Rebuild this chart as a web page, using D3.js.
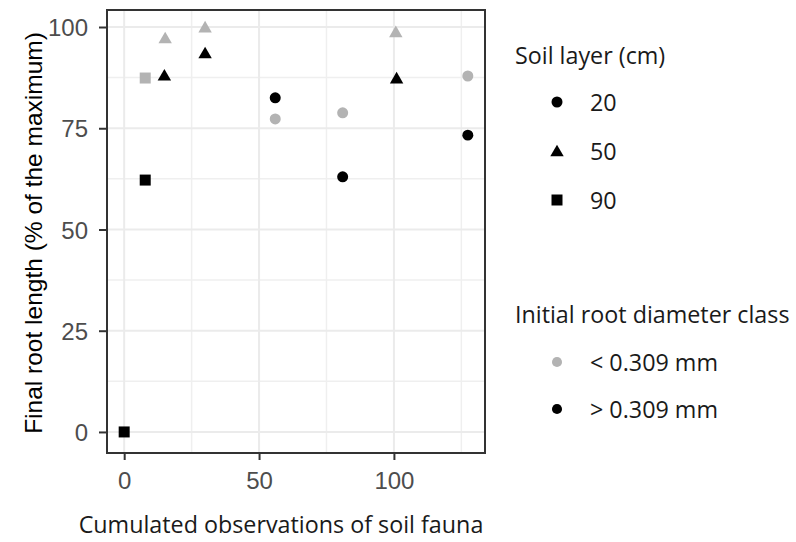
<!DOCTYPE html>
<html>
<head>
<meta charset="utf-8">
<script src="https://cdn.jsdelivr.net/npm/d3@7/dist/d3.min.js"></script>
<style>
  html, body { margin: 0; padding: 0; background: #fff; }
  svg { display: block; }
</style>
</head>
<body>
<svg id="chart" width="796" height="542"></svg>
<script>
// ---- data ----
const obsFauna   = [0, 7.8, 7.8, 15.2, 14.9, 30, 30, 56, 56, 81, 81, 100.7, 101, 127.4, 127.4];
const rootLength = [0, 87.4, 62.2, 97.3, 88.1, 100, 93.6, 82.5, 77.3, 78.8, 63, 98.8, 87.4, 87.9, 73.3];
const soilLayer  = ["90", "90", "90", "50", "50", "50", "50", "20", "20", "20", "20", "50", "50", "20", "20"];
const diamClass  = [">", "<", ">", "<", ">", "<", ">", ">", "<", "<", ">", "<", ">", "<", ">"];

const layerLevels = ["20", "50", "90"];
const classLevels = ["<", ">"];
const classLabels = ["< 0.309 mm", "> 0.309 mm"];

const xTicks = [0, 50, 100];
const xMinor = [25, 75, 125];
const yTicks = [0, 25, 50, 75, 100];
const yMinor = [12.5, 37.5, 62.5, 87.5];

const xTitle = "Cumulated observations of soil fauna";
const yTitle = "Final root length (% of the maximum)";
const legend1Title = "Soil layer (cm)";
const legend2Title = "Initial root diameter class";

// ---- layout ----
const panel = { left: 107, right: 485, top: 10, bottom: 453 };
const svg = d3.select("#chart");

const x = d3.scaleLinear().domain([-6.37, 133.77]).range([panel.left, panel.right]);
const y = d3.scaleLinear().domain([-5.2, 104.2]).range([panel.bottom, panel.top]);

const color = d3.scaleOrdinal().domain(classLevels).range(["#b3b3b3", "#000000"]);
const shape = d3.scaleOrdinal().domain(layerLevels).range([d3.symbolCircle, d3.symbolTriangle, d3.symbolSquare]);
const sizeOf = { "20": 95, "50": 78, "90": 121 };
const sym = d => d3.symbol().type(shape(d)).size(sizeOf[d])();

// panel background
svg.append("rect")
  .attr("x", panel.left).attr("y", panel.top)
  .attr("width", panel.right - panel.left).attr("height", panel.bottom - panel.top)
  .attr("fill", "#ffffff");

// grid
const grid = svg.append("g");
grid.selectAll(".vminor").data(xMinor).join("line")
  .attr("x1", d => x(d)).attr("x2", d => x(d))
  .attr("y1", panel.top).attr("y2", panel.bottom)
  .attr("stroke", "#efefef").attr("stroke-width", 1.5);
grid.selectAll(".hminor").data(yMinor).join("line")
  .attr("x1", panel.left).attr("x2", panel.right)
  .attr("y1", d => y(d)).attr("y2", d => y(d))
  .attr("stroke", "#efefef").attr("stroke-width", 1.5);
grid.selectAll(".vmajor").data(xTicks).join("line")
  .attr("x1", d => x(d)).attr("x2", d => x(d))
  .attr("y1", panel.top).attr("y2", panel.bottom)
  .attr("stroke", "#ebebeb").attr("stroke-width", 2);
grid.selectAll(".hmajor").data(yTicks).join("line")
  .attr("x1", panel.left).attr("x2", panel.right)
  .attr("y1", d => y(d)).attr("y2", d => y(d))
  .attr("stroke", "#ebebeb").attr("stroke-width", 2);

// points
const pts = d3.range(obsFauna.length);
svg.append("g").selectAll("path").data(pts).join("path")
  .attr("d", i => sym(soilLayer[i]))
  .attr("transform", i => `translate(${x(obsFauna[i])},${y(rootLength[i]) + (soilLayer[i] === "50" ? 1.5 : 0)})`)
  .attr("fill", i => color(diamClass[i]));

// panel border
svg.append("rect")
  .attr("x", panel.left).attr("y", panel.top)
  .attr("width", panel.right - panel.left).attr("height", panel.bottom - panel.top)
  .attr("fill", "none").attr("stroke", "#333333").attr("stroke-width", 2);

// axes
const tickFont = "'Liberation Sans', Arial, sans-serif";
const xAxis = svg.append("g").attr("transform", `translate(0,${panel.bottom})`)
  .call(d3.axisBottom(x).tickValues(xTicks).tickSize(7).tickPadding(12).tickSizeOuter(0));
const yAxis = svg.append("g").attr("transform", `translate(${panel.left},0)`)
  .call(d3.axisLeft(y).tickValues(yTicks).tickSize(8).tickPadding(11).tickSizeOuter(0));
[xAxis, yAxis].forEach(a => {
  a.select(".domain").remove();
  a.selectAll(".tick line").attr("stroke", "#333333").attr("stroke-width", 2);
  a.selectAll(".tick text").attr("fill", "#4d4d4d")
    .style("font-family", tickFont).style("font-size", "24px");
});
xAxis.selectAll(".tick text").attr("dy", "0.71em");
yAxis.selectAll(".tick text").attr("dy", "0.36em");

// axis titles
const titleFont = "'Open Sans', 'Noto Sans', sans-serif";
const titleSize = "23.3px";
svg.append("text")
  .attr("x", 281).attr("y", 533)
  .attr("text-anchor", "middle")
  .style("font-family", titleFont).style("font-size", titleSize)
  .attr("fill", "#1a1a1a")
  .text(xTitle);
svg.append("text")
  .attr("transform", "translate(42,233) rotate(-90)")
  .attr("text-anchor", "middle")
  .style("font-family", tickFont).style("font-size", "24.5px")
  .attr("fill", "#000000")
  .text(yTitle);

// legends
const legX = 557, labX = 590;
const lg1 = svg.append("g");
lg1.append("text").attr("x", 515).attr("y", 64)
  .style("font-family", titleFont).style("font-size", titleSize).attr("fill", "#1a1a1a")
  .text(legend1Title);
const lg1Y = d3.scalePoint().domain(layerLevels).range([102, 200]);
lg1.selectAll("path").data(layerLevels).join("path")
  .attr("d", d => sym(d))
  .attr("transform", d => `translate(${legX},${lg1Y(d) + (d === "50" ? 1.5 : 0)})`)
  .attr("fill", "#000");
lg1.selectAll(".lab").data(layerLevels).join("text")
  .attr("x", labX).attr("y", d => lg1Y(d) + 9)
  .style("font-family", titleFont).style("font-size", titleSize).attr("fill", "#1a1a1a")
  .text(d => d);

const lg2 = svg.append("g");
lg2.append("text").attr("x", 515).attr("y", 323)
  .style("font-family", titleFont).style("font-size", titleSize).attr("fill", "#1a1a1a")
  .text(legend2Title);
const lg2Y = d3.scalePoint().domain(classLevels).range([362, 409]);
lg2.selectAll("path").data(classLevels).join("path")
  .attr("d", d3.symbol().type(d3.symbolCircle).size(80)())
  .attr("transform", d => `translate(${legX},${lg2Y(d)})`)
  .attr("fill", d => color(d));
lg2.selectAll(".lab").data(classLevels).join("text")
  .attr("x", labX).attr("y", d => lg2Y(d) + 8.5)
  .style("font-family", titleFont).style("font-size", titleSize).attr("fill", "#1a1a1a")
  .text((d, i) => classLabels[i]);
</script>
</body>
</html>
